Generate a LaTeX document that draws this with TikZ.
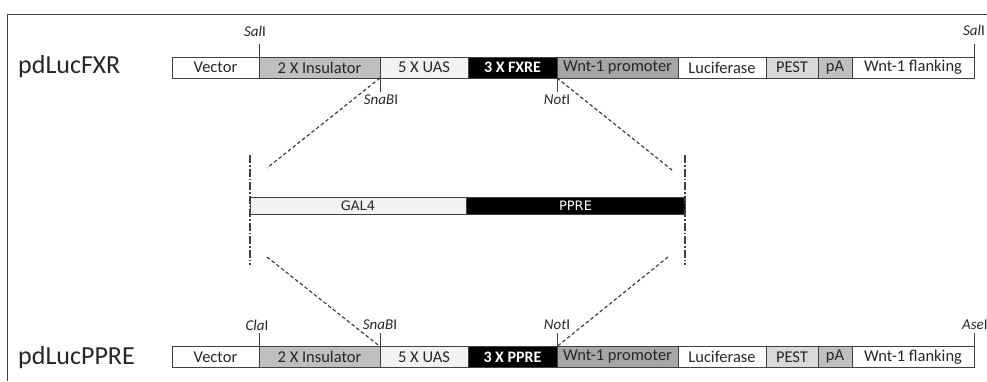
\documentclass[tikz,border=0pt]{standalone}
\usepackage{fontspec}
\setmainfont{Carlito}
\newfontfamily\barfont{DejaVu Sans}
\definecolor{insul}{HTML}{BFBFBF}
\definecolor{uas}{HTML}{F2F2F2}
\definecolor{wntp}{HTML}{A6A6A6}
\definecolor{pest}{HTML}{D9D9D9}
\definecolor{pa}{HTML}{BFBFBF}
\definecolor{edge}{HTML}{404040}
\tikzset{
  seg/.style={draw=edge, line width=0.8pt, anchor=west, minimum height=21pt, inner sep=0pt, outer sep=0pt, text=black!85, font=\fontsize{16.5}{18}\selectfont},
  darkseg/.style={seg, fill=black, text=white, font=\fontsize{16}{18}\selectfont\bfseries},
  tick/.style={draw=edge, line width=0.9pt},
  site/.style={font=\fontsize{15}{17}\selectfont, inner sep=0pt, text=black!85},
  cut/.style={draw=black!80, line width=1.1pt, dash pattern=on 3.5pt off 2.5pt},
  guide/.style={draw=edge, line width=1.1pt, dash pattern=on 8pt off 2pt on 1.5pt off 2pt},
  barseg/.style={draw=edge, line width=0.9pt, anchor=west, minimum height=17pt, inner sep=0pt, outer sep=0pt, font=\barfont\fontsize{13}{15}\selectfont},
  title/.style={anchor=west, inner sep=0pt, text=black!85, font=\fontsize{26}{28}\selectfont}
}
\begin{document}
\begin{tikzpicture}[x=1pt, y=-1pt]
\useasboundingbox (0,0) rectangle (987,381);
\begin{scope}
\clip (0,0) rectangle (987,381);
% frame
\draw[edge, line width=1pt] (7,381) -- (7,14) -- (990,14);

% titles
\node[title] (t1) at (18,67) {pdLucFXR};
\node[title] (t2) at (18,358) {pdLucPPRE};

% top row
\node[seg, minimum width=87pt] (a1) at (172,67.5) {Vector};
\node[seg, fill=insul, minimum width=121pt] (a2) at (259,67.5) {2 X Insulator};
\node[seg, fill=uas, minimum width=88pt] (a3) at (380,67.5) {5 X UAS};
\node[darkseg, minimum width=89pt] (a4) at (468,67.5) {3 X FXRE};
\node[seg, fill=wntp, minimum width=121pt] (a5) at (557,67.5) {Wnt-1 promoter};
\node[seg, minimum width=88pt] (a6) at (678,67.5) {Luciferase};
\node[seg, fill=pest, minimum width=52pt] (a7) at (766,67.5) {PEST};
\node[seg, fill=pa, minimum width=34pt] (a8) at (818,67.5) {pA};
\node[seg, minimum width=122pt] (a9) at (852,67.5) {Wnt-1 flanking};

% bottom row
\node[seg, minimum width=87pt] (b1) at (172,357) {Vector};
\node[seg, fill=insul, minimum width=121pt] (b2) at (259,357) {2 X Insulator};
\node[seg, fill=uas, minimum width=88pt] (b3) at (380,357) {5 X UAS};
\node[darkseg, minimum width=89pt] (b4) at (468,357) {3 X PPRE};
\node[seg, fill=wntp, minimum width=121pt] (b5) at (557,357) {Wnt-1 promoter};
\node[seg, minimum width=88pt] (b6) at (678,357) {Luciferase};
\node[seg, fill=pest, minimum width=52pt] (b7) at (766,357) {PEST};
\node[seg, fill=pa, minimum width=34pt] (b8) at (818,357) {pA};
\node[seg, minimum width=122pt] (b9) at (852,357) {Wnt-1 flanking};

% top sites
\coordinate (s1) at (259,44);
\coordinate (s2) at (974,44);
\coordinate (s3) at (380,92);
\coordinate (s4) at (557,92);
\draw[tick] (a2.north west) -- (s1);
\draw[tick] (a9.north east) -- (s2);
\draw[tick] (a3.south west) -- (s3);
\draw[tick] (a5.south west) -- (s4);
\node[site, anchor=south] (l1) at (255,37) {\textit{Sal}I};
\node[site, anchor=south west] (l2) at (963,36) {\textit{Sal}I};
\node[site] (l3) at (381,100) {\textit{SnaB}I};
\node[site] (l4) at (557,100) {\textit{Not}I};

% bottom sites
\coordinate (r1) at (259,333);
\coordinate (r2) at (380,333);
\coordinate (r3) at (557,333);
\coordinate (r4) at (974,333);
\draw[tick] (b2.north west) -- (r1);
\draw[tick] (b3.north west) -- (r2);
\draw[tick] (b5.north west) -- (r3);
\draw[tick] (b9.north east) -- (r4);
\node[site] (m1) at (257,325) {\textit{Cla}I};
\node[site] (m2) at (380,325) {\textit{SnaB}I};
\node[site] (m3) at (557,325) {\textit{Not}I};
\node[site, anchor=west] (m4) at (962,325) {\textit{Ase}I};

% middle bar
\node[barseg, fill=uas, text=black!85, minimum width=216pt] (g1) at (250,205.5) {GAL4};
\node[barseg, fill=black, text=white, minimum width=219pt] (g2) at (466,205.5) {PPRE};

% guides
\coordinate (v1t) at (250,155);
\coordinate (v1b) at (250,265);
\coordinate (v2t) at (685,155);
\coordinate (v2b) at (685,265);
\draw[guide] (v1t) -- (v1b);
\draw[guide] (v2t) -- (v2b);

% cut lines
\coordinate (c1) at (267,168);
\coordinate (c2) at (672,170);
\coordinate (c3) at (267,257);
\coordinate (c4) at (668,257);
\draw[cut] (a3.south west) -- (c1);
\draw[cut] (a5.south west) -- (c2);
\draw[cut] (c3) -- (b3.north west);
\draw[cut] (c4) -- (b5.north west);
\end{scope}
\end{tikzpicture}
\end{document}
